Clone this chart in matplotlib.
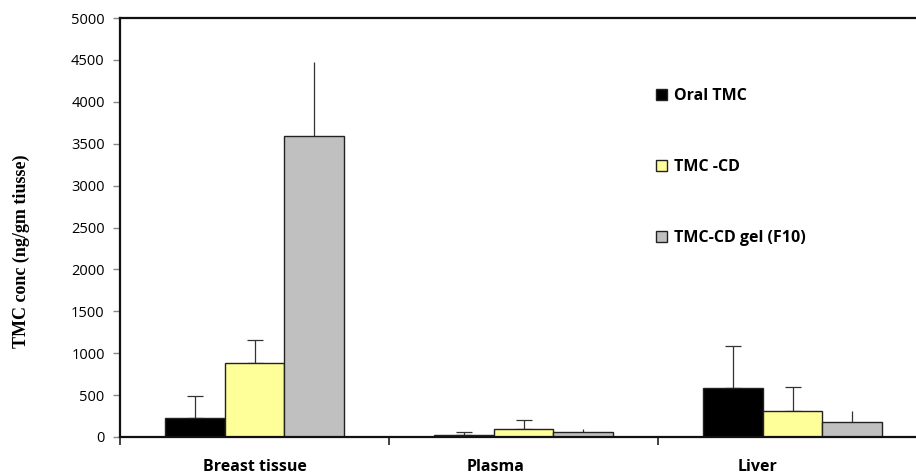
import numpy as np
import matplotlib.pyplot as plt
from matplotlib.ticker import FixedLocator

# tissue distribution of TMC, mean and upper SD
tissues = ['Breast tissue', 'Plasma', 'Liver']
series = ['Oral TMC', 'TMC -CD', 'TMC-CD gel (F10)']
oral_tmc = [230, 25, 585]
oral_tmc_sd = [260, 30, 500]
tmc_cd = [885, 90, 308]
tmc_cd_sd = [275, 110, 292]
tmc_cd_gel = [3590, 54, 180]
tmc_cd_gel_sd = [890, 38, 130]
yticks = [0, 500, 1000, 1500, 2000, 2500, 3000, 3500, 4000, 4500, 5000]

fig = plt.figure(figsize=(9.16, 4.76), dpi=100)
ax = fig.add_axes([120/916, 39/476, 807/916, 419/476])

x = np.arange(len(tissues))
w = 0.223
colors = ['#000000', '#FFFF99', '#C0C0C0']
means = [oral_tmc, tmc_cd, tmc_cd_gel]
sds = [oral_tmc_sd, tmc_cd_sd, tmc_cd_gel_sd]
caps = [6, 6, 0]

for i in range(3):
    pos = x + (i - 1) * w
    ax.bar(pos, means[i], w, color=colors[i], edgecolor='#222222',
           linewidth=1.0, label=series[i], zorder=2)
    ax.errorbar(pos, means[i], yerr=[np.zeros(3), sds[i]], fmt='none',
                ecolor='#333333', elinewidth=0.9, capsize=caps[i],
                capthick=0.9, zorder=1)

ax.set_xlim(-0.5, 2.5)
ax.set_ylim(0, 5000)
ax.set_yticks(yticks)
# category names sit a little left of the group centres
label_pos = [0, 0.895, 1.87]
ax.set_xticks(label_pos)
ax.set_xticklabels(tissues, fontfamily='Open Sans', fontweight='bold',
                   fontsize=11.5)
ax.xaxis.set_minor_locator(FixedLocator([-0.5, 0.5, 1.5]))
ax.tick_params(axis='x', which='major', length=0, pad=16)
ax.tick_params(axis='x', which='minor', length=6, width=1.2, color='#222222')
ax.tick_params(axis='y', length=5, width=1, color='#888888', pad=6)
for lab in ax.get_yticklabels():
    lab.set_fontfamily('Open Sans')
    lab.set_fontsize(10.5)

for s in ['left', 'bottom', 'top']:
    ax.spines[s].set_linewidth(1.6)
    ax.spines[s].set_color('#111111')
ax.spines['right'].set_visible(False)

ax.set_ylabel('TMC conc (ng/gm tiusse)', fontfamily='Liberation Serif',
              fontweight='bold', fontsize=13)
ax.yaxis.set_label_coords(-0.112, 0.444)

leg = ax.legend(loc='upper left', bbox_to_anchor=(648/916, 1 - 80/476),
                bbox_transform=fig.transFigure, frameon=False,
                handlelength=0.7, handleheight=0.7, handletextpad=0.4,
                labelspacing=3.45, borderpad=0,
                prop={'family': 'Open Sans', 'weight': 'bold', 'size': 11.5})

plt.savefig('out.png', dpi=100)
